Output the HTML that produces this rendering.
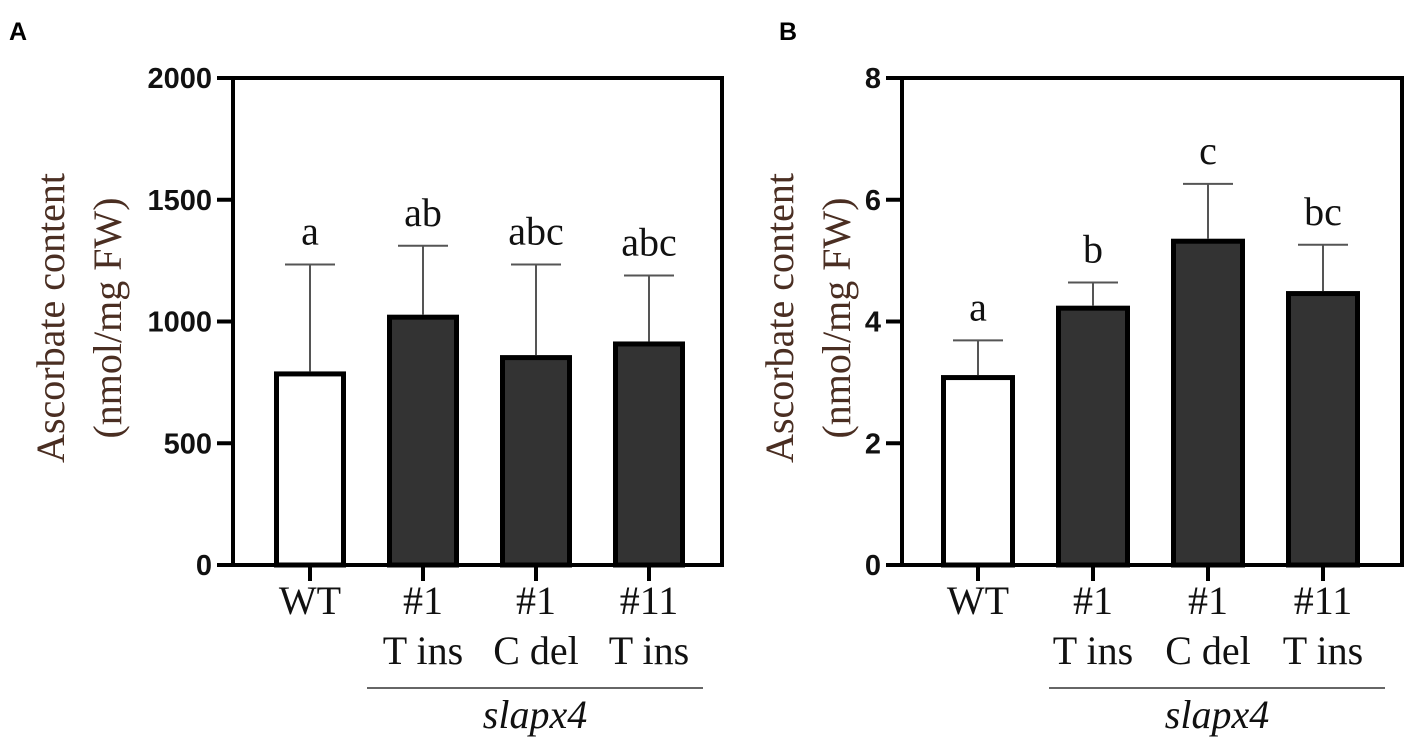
<!DOCTYPE html>
<html><head><meta charset="utf-8">
<style>
html,body{margin:0;padding:0;background:#fff;}
svg{display:block;}
.tick{font-family:"Liberation Sans",sans-serif;font-weight:bold;font-size:29px;fill:#111;}
.ser{font-family:"Liberation Serif",serif;font-size:40px;fill:#111;}
.ytitle{font-family:"Liberation Serif",serif;font-size:40px;fill:#4a2e22;}
.panel{font-family:"Liberation Sans",sans-serif;font-weight:bold;font-size:25px;fill:#000;}
</style></head><body>
<svg id="chart" width="1417" height="747" viewBox="0 0 1417 747" xmlns="http://www.w3.org/2000/svg"></svg>
<script>
const categoriesA = ["WT","#1","#1","#11"];
const subLabelsA = ["","T ins","C del","T ins"];
const valuesA = [795, 1028, 862, 918];
const errTopsA = [1234, 1311, 1234, 1189];
const lettersA = ["a","ab","abc","abc"];
const ticksA = [0,500,1000,1500,2000];

const categoriesB = ["WT","#1","#1","#11"];
const subLabelsB = ["","T ins","C del","T ins"];
const valuesB = [3.12, 4.26, 5.36, 4.5];
const errTopsB = [3.69, 4.64, 6.26, 5.26];
const lettersB = ["a","b","c","bc"];
const ticksB = [0,2,4,6,8];

const svg = document.getElementById('chart');
const NS = 'http://www.w3.org/2000/svg';
function mk(tag, attrs, parent){const e=document.createElementNS(NS,tag);for(const k in attrs)e.setAttribute(k,attrs[k]);(parent||svg).appendChild(e);return e;}

function panel(cfg){
  const g = mk('g',{});
  
  
  const y = v => cfg.bottom - v / cfg.max * (cfg.bottom - cfg.top);
  const xc = i => cfg.x0 + cfg.step * i;
  cfg.vals.forEach((v,i)=>{
    const bw = cfg.bw;
    const r = mk('rect',{x:xc(i)-bw/2+2.5,y:y(v)+2.5,width:bw-5,height:cfg.bottom-y(v)-2.5,fill:i===0?'#fff':'#333',stroke:'#000','stroke-width':5},g);
    
    
    const e = mk('line',{x1:xc(i),x2:xc(i),y1:y(cfg.errs[i]),y2:y(v),stroke:'#555','stroke-width':2},g);
    
    
    const c = mk('line',{x1:xc(i)-25,x2:xc(i)+25,y1:y(cfg.errs[i]),y2:y(cfg.errs[i]),stroke:'#555','stroke-width':2},g);
    
    
    const t = mk('text',{x:xc(i),y:y(cfg.errs[i])-20,'text-anchor':'middle',class:'ser'},g);
    t.textContent = cfg.letters[i];
    
    
    const tk = mk('line',{x1:xc(i),x2:xc(i),y1:cfg.bottom,y2:cfg.bottom+16,stroke:'#000','stroke-width':4},g);
    
    
    const l1 = mk('text',{x:xc(i),y:cfg.bottom+49,'text-anchor':'middle',class:'ser'},g);
    l1.textContent = cfg.cats[i];
    
    
    if(cfg.subs[i]){
      const l2 = mk('text',{x:xc(i),y:cfg.bottom+99,'text-anchor':'middle',class:'ser'},g);
      l2.textContent = cfg.subs[i];
      
      
    }
  });
  const f = mk('path',{d:`M${cfg.left} ${cfg.bottom} V${cfg.top} H${cfg.right} V${cfg.bottom} H${cfg.left}`,fill:'none',stroke:'#000','stroke-width':4},g);
  
  
  cfg.ticks.forEach(t=>{
    const tl = mk('line',{x1:cfg.left-16,x2:cfg.left,y1:y(t),y2:y(t),stroke:'#000','stroke-width':4},g);
    
    
    const tt = mk('text',{x:cfg.left-21,y:y(t)+10,'text-anchor':'end',class:'tick'},g);
    tt.textContent = t;
    
    
  });
  const yt = mk('text',{transform:`translate(${cfg.titleX},${cfg.midY}) rotate(-90)`,'text-anchor':'middle',class:'ytitle'},g);
  
  
  const s1 = mk('tspan',{x:0,y:0},yt); s1.textContent='Ascorbate  content';
  const s2 = mk('tspan',{x:0,y:57},yt); s2.textContent='(nmol/mg FW)';
  const ul = mk('line',{x1:cfg.ulx1,x2:cfg.ulx2,y1:688,y2:688,stroke:'#333','stroke-width':1.5},g);
  
  
  const gl = mk('text',{x:(cfg.ulx1+cfg.ulx2)/2,y:728,'text-anchor':'middle',class:'ser','font-style':'italic'},g);
  gl.textContent='slapx4';
  
  
  const pl = mk('text',{x:cfg.plx,y:40,class:'panel'},g);
  pl.textContent=cfg.letter;
  
  
}
panel({name:'panel-a',letter:'A',plx:9,left:233,right:722,top:78,bottom:565,max:2000,cats:categoriesA,subs:subLabelsA,vals:valuesA,errs:errTopsA,letters:lettersA,ticks:ticksA,bw:72,x0:310,step:113,titleX:64,midY:318,ulx1:367,ulx2:703});
panel({name:'panel-b',letter:'B',plx:779,left:902,right:1402,top:78,bottom:565,max:8,cats:categoriesB,subs:subLabelsB,vals:valuesB,errs:errTopsB,letters:lettersB,ticks:ticksB,bw:74,x0:978,step:115,titleX:793,midY:318,ulx1:1049,ulx2:1385});
</script>
</body></html>
